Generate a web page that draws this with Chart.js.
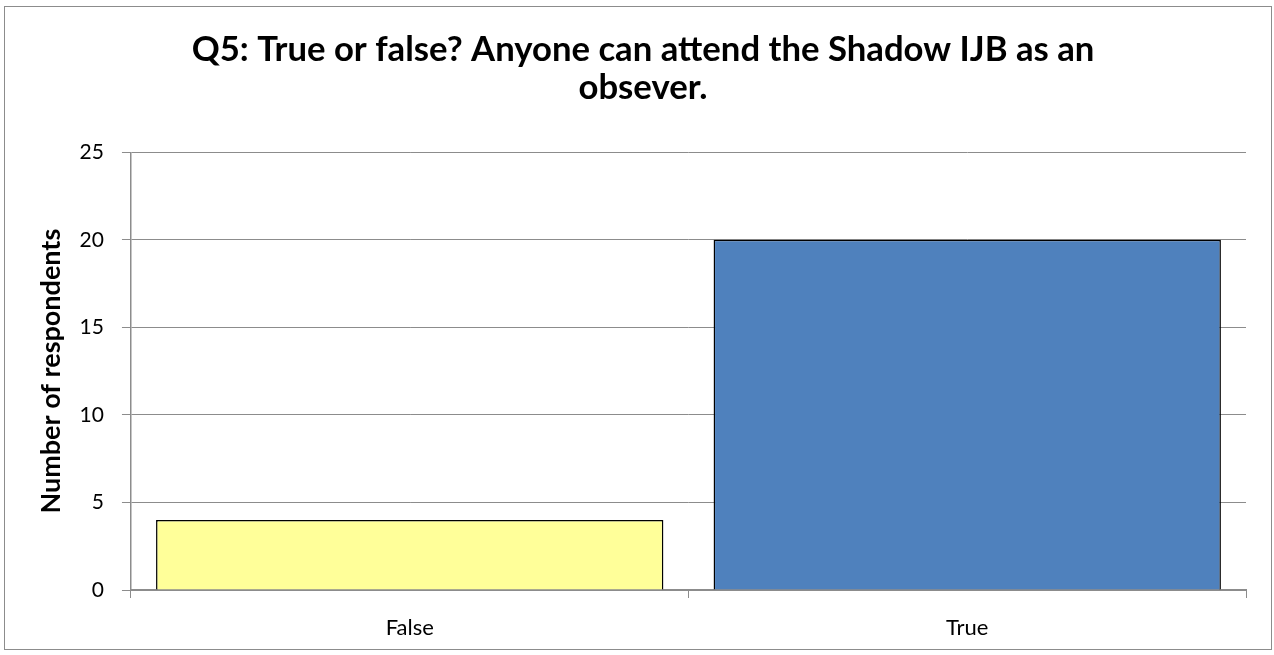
<!DOCTYPE html>
<html>
<head>
<meta charset="utf-8">
<script src="https://cdn.jsdelivr.net/npm/chart.js@4"></script>
<style>
    html, body { margin: 0; padding: 0; background: #fff; }
    #frame {
        position: absolute;
        left: 4px; top: 6px;
        width: 1268px; height: 644px;
        border: 1px solid #8c8c8c;
        box-sizing: border-box;
        overflow: hidden;
    }
    #frame canvas { display: block; }
</style>
</head>
<body>
<div id="frame"><canvas id="q5Chart" width="1266" height="642"></canvas></div>
<script>
const categories = ['False', 'True'];
const respondents = [4, 20];
const barColors = ['#FFFF99', '#4F81BD'];
const titleLines = ['Q5: True or false? Anyone can attend the Shadow IJB as an', 'obsever.'];
const yTicks = [0, 5, 10, 15, 20, 25];

document.addEventListener('DOMContentLoaded', function() {
    const ctx = document.getElementById('q5Chart');
    const fontFamily = 'Lato, "Open Sans", sans-serif';

    const config = {
        type: 'bar',
        data: {
            labels: categories,
            datasets: [{
                label: 'Number of respondents',
                data: respondents,
                backgroundColor: barColors,
                borderColor: '#000000',
                borderWidth: 1.5,
                barPercentage: 0.91,
                categoryPercentage: 1
            }]
        },
        options: {
            responsive: false,
            animation: false,
            devicePixelRatio: 1,
            layout: {
                // negative bottom lets the x labels sit lower, like the original
                padding: { left: 35, right: 25, top: 24, bottom: -9 }
            },
            scales: {
                y: {
                    min: yTicks[0],
                    max: yTicks[yTicks.length - 1],
                    afterBuildTicks: function(axis) {
                        axis.ticks = yTicks.map(v => ({ value: v }));
                    },
                    ticks: {
                        padding: 18,
                        color: '#000',
                        font: { family: fontFamily, size: 21 }
                    },
                    grid: {
                        color: '#8c8c8c',
                        lineWidth: 1,
                        tickLength: 9
                    },
                    border: { color: '#8c8c8c', width: 1.5 },
                    title: {
                        display: true,
                        text: 'Number of respondents',
                        color: '#000',
                        font: { family: fontFamily, size: 27, weight: 'bold', lineHeight: 0.8 },
                        padding: 0
                    }
                },
                x: {
                    ticks: {
                        padding: 19,
                        color: '#000',
                        font: { family: fontFamily, size: 22, lineHeight: 1.0 }
                    },
                    grid: {
                        drawOnChartArea: false,
                        color: '#8c8c8c',
                        tickLength: 8
                    },
                    border: { color: '#8c8c8c', width: 2 }
                }
            },
            plugins: {
                legend: { display: false },
                tooltip: { enabled: false },
                title: {
                    display: true,
                    text: titleLines,
                    color: '#000',
                    font: { family: fontFamily, size: 34.7, weight: 'bold', lineHeight: 1.1 },
                    padding: { top: 0, bottom: 45 }
                }
            }
        }
    };

    try {
        new Chart(ctx.getContext('2d'), config);
    } catch (error) {
        console.error('Chart initialization failed:', error);
    }
});
</script>
</body>
</html>
